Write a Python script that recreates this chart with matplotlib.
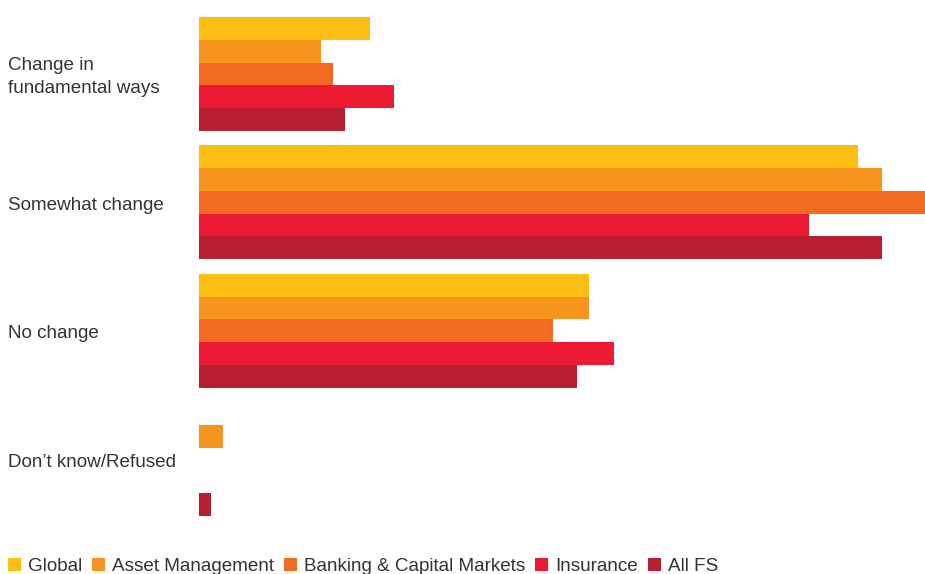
import matplotlib
matplotlib.use('Agg')

import matplotlib.pyplot as plt
import matplotlib.transforms as mtransforms
import numpy as np

# survey answers (% of respondents)
categories = ['Change in\nfundamental ways', 'Somewhat change', 'No change', 'Don\u2019t know/Refused']
series = ['Global', 'Asset Management', 'Banking & Capital Markets', 'Insurance', 'All FS']
glob = [14, 54, 32, 0]
asset = [10, 56, 32, 2]
banking = [11, 60, 29, 0]
insurance = [16, 50, 34, 0]
allfs = [12, 56, 31, 1]

colors = ['#FDBE14', '#F7931F', '#F36C21', '#EC1B33', '#B91F32']
plt.rcParams['font.family'] = ['Liberation Sans', 'DejaVu Sans']

W, H = 925, 574
fig = plt.figure(figsize=(W / 100, H / 100), dpi=100)
ax = fig.add_axes([199 / W, (H - 516) / H, 1 - 199 / W, (516 - 17) / H])

y = np.arange(len(categories))
h = 22.8 / 128.5
for i, (vals, c) in enumerate(zip([glob, asset, banking, insurance, allfs], colors)):
  ax.barh(y - 2 * h + i * h, vals, height=h, color=c, label=series[i])

ax.set_xlim(0, 59.5)
ax.set_ylim(3 + 2.5 * h, -2.5 * h)
ax.axis('off')

# category labels on the left
trans = mtransforms.blended_transform_factory(fig.transFigure, ax.transData)
trans = trans + mtransforms.ScaledTranslation(0, -3 / 100, fig.dpi_scale_trans)
for yi, cat in zip(y, categories):
  ax.text(8 / W, yi, cat, transform=trans, ha='left', va='center', fontsize=13.6,
          color='#333333', linespacing=1.4, clip_on=False)

fig.legend(loc='center left', bbox_to_anchor=(8 / W, 7.5 / H), ncol=5, frameon=False,
           fontsize=13.6, handlelength=0.7, handleheight=0.7, handletextpad=0.36,
           columnspacing=0.52, borderaxespad=0, borderpad=0, labelcolor='#333333')

plt.savefig('out.png', dpi=100)
